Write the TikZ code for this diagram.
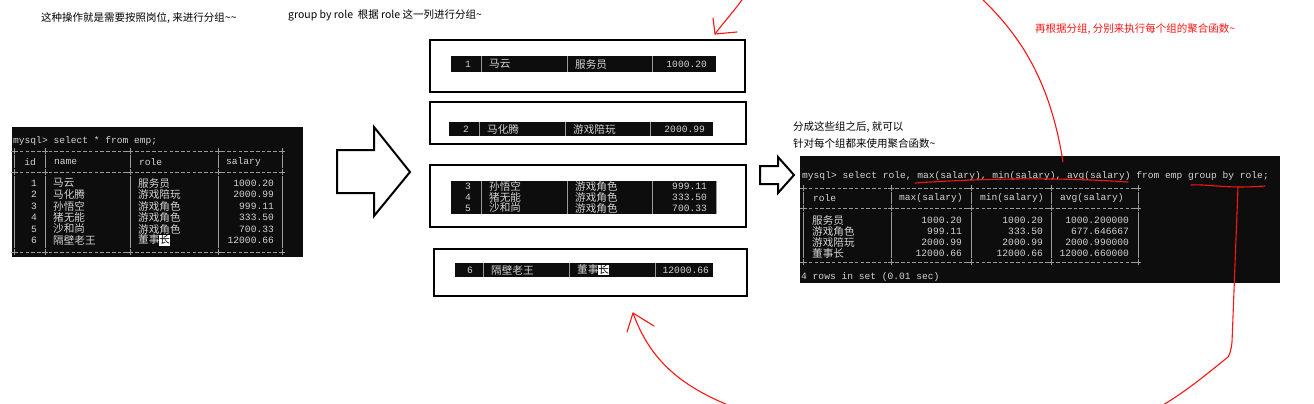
\documentclass[tikz,border=0pt]{standalone}
\usepackage{fontspec}
\setmainfont{Noto Sans CJK SC}
\newfontfamily\conascii{Liberation Mono}
\newfontfamily\concjk{Noto Sans CJK SC}
\usetikzlibrary{positioning}
\definecolor{congray}{HTML}{D4D4D4}
\definecolor{conline}{HTML}{9A9A9A}
\definecolor{penred}{HTML}{FF1414}
\setlength{\fboxsep}{0pt}
\newcommand{\selchar}[1]{\colorbox{white}{\rule[-2pt]{0pt}{10.5pt}\textcolor{black}{#1}}}
% one cut-out row of the console table (inside a shifted scope)
\newcommand{\grouprow}[6]{%
    \node[con, anchor=east] (#6-id) at (471,#1) {#2};
    \node[conc, anchor=west] (#6-name) at (489,#1) {#3};
    \node[conc, anchor=west] (#6-role) at (575,#1) {#4};
    \node[con, anchor=east] (#6-sal) at (707,#1) {#5};}
\tikzset{
    con/.style={font=\conascii\fontsize{9.6}{11}\selectfont, text=congray, inner sep=0pt},
    conc/.style={font=\concjk\fontsize{10.6}{11}\selectfont, text=congray, inner sep=0pt},
    conrule/.style={conline, line width=0.6pt, dash pattern=on 3.6pt off 2.16pt},
    conbar/.style={conline, line width=0.7pt},
    panel/.style={fill=black!95},
    groupbox/.style={draw=black, line width=2pt, anchor=north west, inner sep=0pt},
    note/.style={font=\fontsize{10.5}{12}\selectfont, anchor=west, inner sep=0pt},
    redpen/.style={penred, line width=1.1pt, line cap=round, line join=round},
    hollow/.style={draw=black, line width=2pt, line join=miter}
}

\begin{document}
\begin{tikzpicture}[x=1pt, y=-1pt]
    \useasboundingbox (0,0) rectangle (1314,404);

    % --- notes ---
    \node[note] (note-group) at (41,18) {这种操作就是需要按照岗位, 来进行分组\textasciitilde\textasciitilde};
    \node[note] (note-role) at (288,15) {group by role\ \ 根据 role 这一列进行分组\textasciitilde};
    \node[note] (note-after) at (793,127) {分成这些组之后, 就可以};
    \node[note] (note-each) at (793,144) {针对每个组都来使用聚合函数\textasciitilde};
    \node[note, text=penred] (note-agg) at (1035,29) {再根据分组, 分别来执行每个组的聚合函数\textasciitilde};

    % --- console 1 : select * from emp ---
    \fill[panel] (12,127) rectangle (303,257);
    \node[con, anchor=west] (q-all) at (13,141) {mysql> select * from emp;};
    \foreach \yy in {151,172,252} {
        \draw[conrule] (14,\yy) -- (282,\yy);
        \foreach \x in {14,45,130,218,282}
            \draw[conbar] (\x-2.6,\yy) -- (\x+2.6,\yy) (\x,\yy-3) -- (\x,\yy+3);
    }
    \foreach \x in {14,45,130,218,282} {
        \draw[conbar] (\x,155) -- (\x,168);
        \draw[conbar] (\x,176) -- (\x,248);
    }
    \node[con, anchor=east] (h-id) at (36,162) {id};
    \node[con, anchor=west] (h-name) at (54,162) {name};
    \node[con, anchor=west] (h-role) at (139,162) {role};
    \node[con, anchor=west] (h-sal) at (226,162) {salary};
    \foreach \i/\nm/\rl/\sal [count=\k from 0] in {1/马云/服务员/1000.20, 2/马化腾/游戏陪玩/2000.99,
            3/孙悟空/游戏角色/999.11, 4/猪无能/游戏角色/333.50, 5/沙和尚/游戏角色/700.33,
            6/隔壁老王/董事\selchar{长}/12000.66} {
        \node[con, anchor=east] (e\i-id) at (37,183+\k*11.5) {\i};
        \node[conc, anchor=west] (e\i-name) at (53,183+\k*11.5) {\nm};
        \node[conc, anchor=west] (e\i-role) at (138,183+\k*11.5) {\rl};
        \node[con, anchor=east] (e\i-sal) at (274,183+\k*11.5) {\sal};
    }

    % --- big hollow arrow ---
    \draw[hollow] (337,150) -- (374,150) -- (374,127) -- (410,172) -- (374,216) -- (374,193) -- (337,193) -- cycle;

    % --- the four groups ---
    \node[groupbox, minimum width=315pt, minimum height=52pt] (grp1) at (429,39) {};
    \node[groupbox, minimum width=316pt, minimum height=42pt] (grp2) at (429,101) {};
    \node[groupbox, minimum width=316pt, minimum height=62pt] (grp3) at (429,164) {};
    \node[groupbox, minimum width=313pt, minimum height=47pt] (grp4) at (433,248) {};
    \fill[panel] (451,56) rectangle (716,72);
    \fill[panel] (449,122) rectangle (713,136);
    \fill[panel] (451,181) rectangle (717,214);
    \fill[panel] (455,263) rectangle (713,277);

    % Group 1 : 服务员
    \begin{scope}
        \foreach \x in {481,567,652} \draw[conbar] (\x,56) -- (\x,72);
        \grouprow{64}{1}{马云}{服务员}{1000.20}{g1}
    \end{scope}

    % Group 2 : 游戏陪玩
    \begin{scope}[xshift=-2pt]
        \foreach \x in {481,567,652} \draw[conbar] (\x,122) -- (\x,136);
        \grouprow{129}{2}{马化腾}{游戏陪玩}{2000.99}{g2}
    \end{scope}

    % Group 3 : 游戏角色 (three rows)
    \begin{scope}
        \foreach \x in {481,567,652,716} \draw[conbar] (\x,181) -- (\x,214);
        \grouprow{186}{3}{孙悟空}{游戏角色}{999.11}{g3a}
        \grouprow{197}{4}{猪无能}{游戏角色}{333.50}{g3b}
        \grouprow{208}{5}{沙和尚}{游戏角色}{700.33}{g3c}
    \end{scope}

    % Group 4 : 董事长
    \begin{scope}[xshift=2pt]
        \foreach \x in {481,567,653} \draw[conbar] (\x,263) -- (\x,277);
        \grouprow{270}{6}{隔壁老王}{董事\selchar{长}}{12000.66}{g4}
    \end{scope}

    % --- small hollow arrow ---
    \draw[hollow] (760,166) -- (778,166) -- (778,157) -- (794,175) -- (778,193) -- (778,184) -- (760,184) -- cycle;

    % --- console 2 : aggregate per group ---
    \fill[panel] (800,156) rectangle (1280,283);
    \node[con, anchor=west] (q-agg) at (802,176) {mysql> select role, max(salary), min(salary), avg(salary) from emp group by role;};
    \foreach \yy in {188,208,262} {
        \draw[conrule] (803,\yy) -- (1138,\yy);
        \foreach \x in {803,891,971,1051,1138}
            \draw[conbar] (\x-2.6,\yy) -- (\x+2.6,\yy) (\x,\yy-3) -- (\x,\yy+3);
    }
    \foreach \x in {803,891,971,1051,1138} {
        \draw[conbar] (\x,192) -- (\x,204);
        \draw[conbar] (\x,212) -- (\x,258);
    }
    \node[con, anchor=west] (a-role) at (813,198) {role};
    \node[con, anchor=west] (a-max) at (899,198) {max(salary)};
    \node[con, anchor=west] (a-min) at (980,198) {min(salary)};
    \node[con, anchor=west] (a-avg) at (1060,198) {avg(salary)};
    \foreach \rl/\mx/\mn/\av [count=\k from 0] in {服务员/1000.20/1000.20/1000.200000,
            游戏角色/999.11/333.50/677.646667, 游戏陪玩/2000.99/2000.99/2000.990000,
            董事长/12000.66/12000.66/12000.660000} {
        \node[conc, anchor=west] (r\k-role) at (812,220+\k*11) {\rl};
        \node[con, anchor=east] (r\k-max) at (962,220+\k*11) {\mx};
        \node[con, anchor=east] (r\k-min) at (1043,220+\k*11) {\mn};
        \node[con, anchor=east] (r\k-avg) at (1129,220+\k*11) {\av};
    }
    \node[con, anchor=west] (a-rows) at (801,277) {4 rows in set (0.01 sec)};

    % --- red pen strokes ---
    \coordinate (penTop) at (744,-3);
    \coordinate (tipTop) at (715,34);
    \draw[redpen] (penTop) .. controls (735,10) and (724,22) .. (tipTop);
    \draw[redpen] (tipTop) -- ++(-2,-16) (tipTop) -- ++(22,-2);

    \coordinate (penRight) at (980,-3);
    \coordinate (penQuery) at (1063,162);
    \draw[redpen] (penRight) .. controls (1020,35) and (1050,80) .. (penQuery);

    \draw[redpen] (915,183) .. controls (960,180) and (1040,176) .. (1128,182);
    \draw[redpen] (1191,185) .. controls (1210,184) and (1225,189) .. (1265,186);

    \coordinate (penGroup) at (1238,187);
    \coordinate (penBottom) at (1163,405);
    \draw[redpen] (penGroup) -- (1232,342) .. controls (1231,352) and (1229,355) .. (1228,357)
        .. controls (1208,373) and (1188,390) .. (penBottom);

    \coordinate (penLow) at (728,405);
    \coordinate (tipLow) at (633,313);
    \draw[redpen] (penLow) .. controls (680,385) and (650,360) .. (tipLow);
    \draw[redpen] (tipLow) -- ++(-6,19) (tipLow) -- ++(21,13);
\end{tikzpicture}
\end{document}
